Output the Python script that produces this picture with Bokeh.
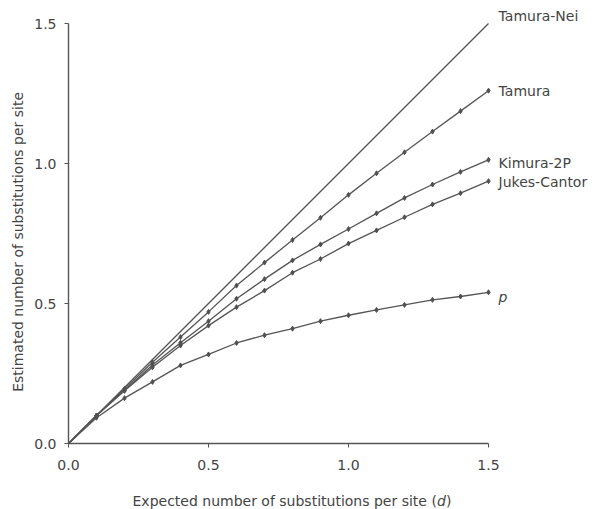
import math
from bokeh.plotting import figure
from bokeh.models import Label, FixedTicker, Range1d, NumeralTickFormatter
from bokeh.embed import file_html
from bokeh.resources import INLINE

# ---- data ----
d_values = [0.0, 0.1, 0.2, 0.3, 0.4, 0.5, 0.6, 0.7, 0.8, 0.9, 1.0, 1.1, 1.2, 1.3, 1.4, 1.5]
tamura_nei = [0.0, 0.1, 0.2, 0.3, 0.4, 0.5, 0.6, 0.7, 0.8, 0.9, 1.0, 1.1, 1.2, 1.3, 1.4, 1.5]
tamura = [0.0, 0.10, 0.195, 0.29, 0.38, 0.47, 0.564, 0.646, 0.727, 0.806, 0.888, 0.965, 1.040, 1.114, 1.187, 1.260]
kimura_2p = [0.0, 0.10, 0.19, 0.28, 0.36, 0.437, 0.517, 0.587, 0.654, 0.711, 0.766, 0.822, 0.877, 0.925, 0.970, 1.013]
jukes_cantor = [0.0, 0.10, 0.188, 0.272, 0.35, 0.421, 0.487, 0.546, 0.610, 0.659, 0.714, 0.761, 0.808, 0.854, 0.894, 0.937]
p_distance = [0.0, 0.092, 0.162, 0.22, 0.279, 0.318, 0.359, 0.387, 0.41, 0.437, 0.458, 0.477, 0.495, 0.513, 0.525, 0.540]

series_names = ["Tamura-Nei", "Tamura", "Kimura-2P", "Jukes-Cantor", "p"]
tick_values = [0.0, 0.5, 1.0, 1.5]
x_title = "Expected number of substitutions per site ("
x_title_italic = "d"
y_title = "Estimated number of substitutions per site"

FONT = "DejaVu Sans"
TXT = "#444444"
LINE = "#555555"

W, H = 598, 509
X0, Y0, SCALE = 68, 443, 280.0   # pixel position of the origin, px per unit

p = figure(width=W, height=H,
           x_range=Range1d(-X0 / SCALE, (W - X0) / SCALE),
           y_range=Range1d(-(H - Y0) / SCALE, Y0 / SCALE),
           output_backend="svg", toolbar_location=None,
           min_border=0, min_border_left=0, min_border_right=0,
           min_border_top=0, min_border_bottom=0)
p.xgrid.visible = False
p.ygrid.visible = False
p.outline_line_color = None
p.background_fill_color = "white"
p.border_fill_color = "white"

p.xaxis.fixed_location = 0
p.yaxis.fixed_location = 0
for ax in (p.xaxis[0], p.yaxis[0]):
    ax.bounds = (0, 1.5)
    ax.ticker = FixedTicker(ticks=tick_values)
    ax.formatter = NumeralTickFormatter(format="0.0")
    ax.axis_line_color = LINE
    ax.axis_line_width = 1.4
    ax.major_tick_line_color = LINE
    ax.major_tick_in = 0
    ax.major_tick_out = 4
    ax.minor_tick_line_color = None
    ax.major_label_text_font = FONT
    ax.major_label_text_font_size = "14px"
    ax.major_label_text_color = TXT
p.xaxis.major_label_standoff = 12
p.yaxis.major_label_standoff = 8

# Tamura-Nei: plain line
p.line(d_values, tamura_nei, line_color=LINE, line_width=1.4)

for ys in (tamura, kimura_2p, jukes_cantor, p_distance):
    p.line(d_values, ys, line_color=LINE, line_width=1.3)
    p.scatter(d_values[1:], ys[1:], marker="diamond", size=5,
              fill_color="#505050", line_color="#505050")

# series labels
last_vals = [tamura_nei[-1], tamura[-1], kimura_2p[-1], jukes_cantor[-1], p_distance[-1]]
y_offsets = [8, 0, -3, -1, -5]
for name, yv, off in zip(series_names, last_vals, y_offsets):
    p.add_layout(Label(x=1.536, y=yv, y_offset=off, text=name,
                       text_font=FONT, text_font_size="14px", text_color=TXT,
                       text_font_style="italic" if name == "p" else "normal",
                       text_baseline="middle", text_align="left"))

# axis titles
p.add_layout(Label(x=-0.182, y=0.72, text=y_title, angle=math.pi / 2,
                   text_font=FONT, text_font_size="14px", text_color=TXT,
                   text_align="center", text_baseline="middle"))
xt_x, xt_y = 0.2286, -0.207
p.add_layout(Label(x=xt_x, y=xt_y, text=x_title, text_font=FONT,
                   text_font_size="14px", text_color=TXT,
                   text_align="left", text_baseline="middle"))
p.add_layout(Label(x=xt_x, y=xt_y, x_offset=304.4, text=x_title_italic, text_font=FONT,
                   text_font_size="14px", text_color=TXT, text_font_style="italic",
                   text_align="left", text_baseline="middle"))
p.add_layout(Label(x=xt_x, y=xt_y, x_offset=313.6, text=")", text_font=FONT,
                   text_font_size="14px", text_color=TXT,
                   text_align="left", text_baseline="middle"))

open("out.html", "w").write(file_html(p, INLINE))
